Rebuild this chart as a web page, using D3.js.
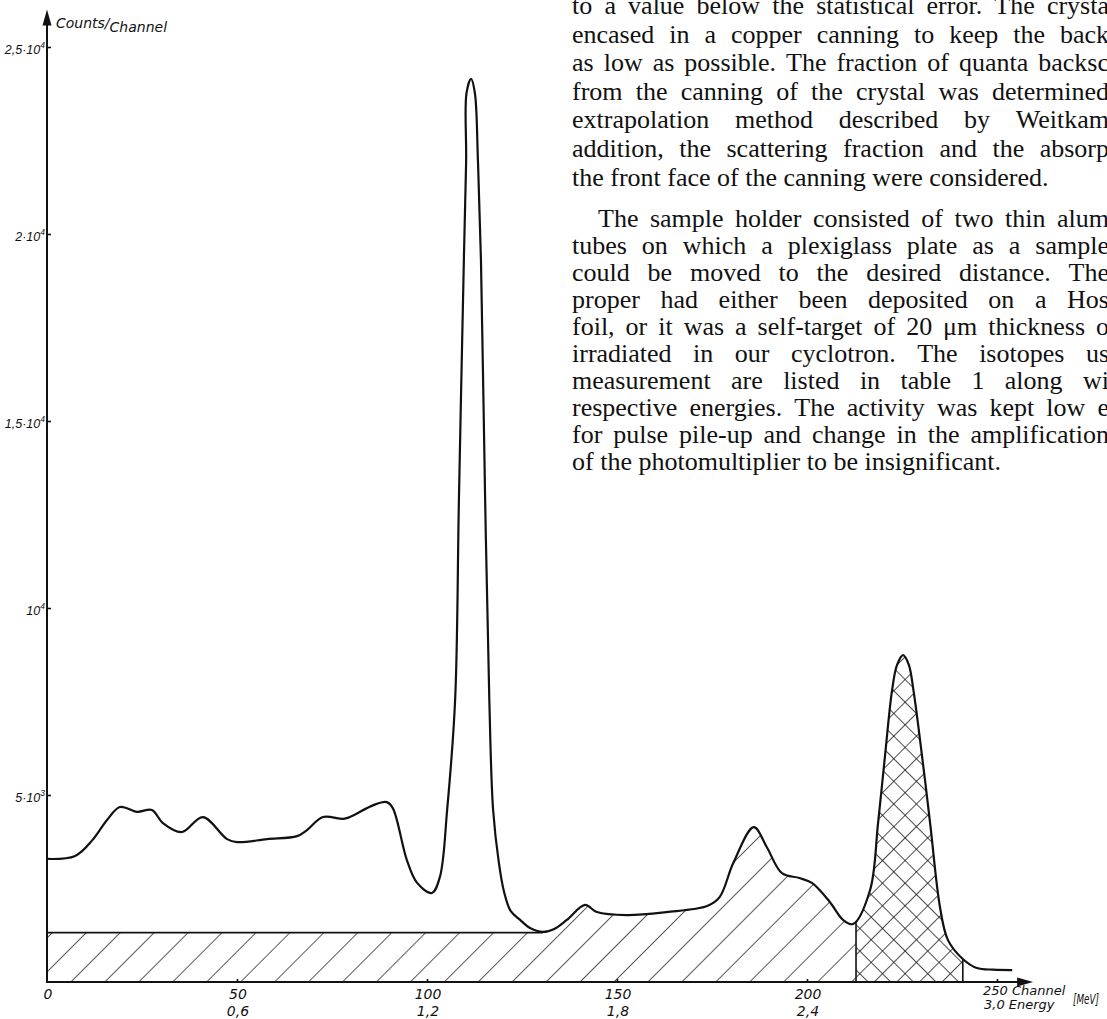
<!DOCTYPE html>
<html>
<head>
<meta charset="utf-8">
<script src="https://cdn.jsdelivr.net/npm/d3@7"></script>
<style>
  html, body { margin: 0; padding: 0; background: #fff; }
  svg { display: block; }
  .lbl { font-family: "DejaVu Sans", "Liberation Sans", sans-serif; font-style: italic; fill: #111; }
  .ylbl { font-family: "Liberation Sans", Arial, sans-serif; font-style: italic; fill: #111; }
  .body { font-family: "Liberation Serif", "Times New Roman", serif; font-size: 26px; fill: #111; }
</style>
</head>
<body>
<svg id="fig" width="1107" height="1019"></svg>
<script>
// Gamma spectrum: channel number and counts per channel
const channels = [0, 7.4, 12, 15.8, 19.2, 23.7, 27.6, 30.5, 35.5, 41, 47.4, 50, 57.9, 65.8, 68.4, 72.6,
  77.9, 79.7, 85.9, 89.4, 91, 94.7, 97.4, 101.3, 103.4, 105.3, 107.4, 108.4, 109.7, 110.3, 110.4,
  111.6, 112.6, 113.4, 114.2, 115.3, 116.4, 117.4, 118.9, 120.3, 122, 124.5, 127, 130.5, 133.5,
  136.8, 141.6, 144.7, 152.6, 163, 173.7, 177, 180.6, 186, 189.4, 193.4, 198, 201.3, 206, 209.5,
  212.1, 216.6, 218.7, 220.5, 222.4, 223.7, 225.3, 226.8, 228, 230.3, 232.4, 235, 237.1, 241,
  244.7, 249, 254];
const counts = [3290, 3370, 3800, 4330, 4680, 4550, 4600, 4250, 4010, 4410, 3820, 3740, 3820, 3900, 4060, 4410,
  4360, 4410, 4730, 4810, 4650, 3260, 2650, 2380, 2810, 4600, 7540, 12900, 19300, 21980, 23770,
  24150, 23770, 21980, 19300, 12900, 7540, 4600, 3200, 2400, 1900, 1660, 1450, 1340, 1420,
  1660, 2060, 1870, 1790, 1870, 2030, 2270, 3180, 4140, 3610, 2910, 2780, 2650, 2140, 1660,
  1550, 2460, 4250, 6020, 7810, 8480, 8740, 8480, 7810, 6020, 4250, 2000, 1120, 615,
  374, 330, 320];

// Background level and the channel limits of the shaded regions
const background = 1320;
const continuumStart = 130.5;
const photopeakLow = 212.9;
const photopeakHigh = 241;

// Axis ticks
const yTicks = [5000, 10000, 15000, 20000, 25000];
const yTickMantissa = ["5·10", "10", "1,5·10", "2·10", "2,5·10"];
const yTickExponent = ["3", "4", "4", "4", "4"];
const xTicks = [0, 50, 100, 150, 200];
const energyLabels = ["", "0,6", "1,2", "1,8", "2,4"];
const lastTick = 250, lastEnergy = "3,0";

// Accompanying text column
const paragraphOne = [
  ["to a value below the statistical error. The crysta", true],
  ["encased in a copper canning to keep the back", true],
  ["as low as possible. The fraction of quanta backsc", true],
  ["from the canning of the crystal was determined", true],
  ["extrapolation method described by Weitkam", true],
  ["addition, the scattering fraction and the absorp", true],
  ["the front face of the canning were considered.", false]
];
const paragraphTwo = [
  ["The sample holder consisted of two thin alum", true],
  ["tubes on which a plexiglass plate as a sample", true],
  ["could be moved to the desired distance. The", true],
  ["proper had either been deposited on a Hos", true],
  ["foil, or it was a self-target of 20 μm thickness o", true],
  ["irradiated in our cyclotron. The isotopes us", true],
  ["measurement are listed in table 1 along wi", true],
  ["respective energies. The activity was kept low e", true],
  ["for pulse pile-up and change in the amplification", true],
  ["of the photomultiplier to be insignificant.", false]
];

const data = channels.map((c, i) => ({ ch: c, n: counts[i] }));

const svg = d3.select("#fig");
const x = d3.scaleLinear().domain([0, 250]).range([47, 997]);
const y = d3.scaleLinear().domain([0, 25000]).range([982, 47]);
const ink = "#111";

// hatch patterns: single "/" diagonals and a cross-hatch
const defs = svg.append("defs");
defs.append("pattern").attr("id", "diag")
  .attr("patternUnits", "userSpaceOnUse").attr("width", 24).attr("height", 24)
  .attr("patternTransform", "rotate(45)")
  .append("line").attr("x1", 0).attr("y1", 0).attr("x2", 0).attr("y2", 24)
  .attr("stroke", ink).attr("stroke-width", 1.4);
const cross = defs.append("pattern").attr("id", "cross")
  .attr("patternUnits", "userSpaceOnUse").attr("width", 16).attr("height", 16)
  .attr("patternTransform", "rotate(45)");
cross.append("line").attr("x1", 0).attr("y1", 0).attr("x2", 0).attr("y2", 16)
  .attr("stroke", ink).attr("stroke-width", 1.5);
cross.append("line").attr("x1", 0).attr("y1", 0).attr("x2", 16).attr("y2", 0)
  .attr("stroke", ink).attr("stroke-width", 1.5);

const curve = d3.curveCatmullRom.alpha(0.5);
const line = d3.line().x(d => x(d.ch)).y(d => y(d.n)).curve(curve);
const area = d3.area().x(d => x(d.ch)).y0(y(0)).y1(d => y(d.n)).curve(curve);

defs.append("clipPath").attr("id", "under")
  .append("path").attr("d", area(data));

// background rectangle under the low-energy part
svg.append("rect")
  .attr("x", x(0)).attr("y", y(background))
  .attr("width", x(continuumStart) - x(0)).attr("height", y(0) - y(background))
  .attr("fill", "url(#diag)");
svg.append("line")
  .attr("x1", x(0)).attr("x2", x(continuumStart))
  .attr("y1", y(background)).attr("y2", y(background))
  .attr("stroke", ink).attr("stroke-width", 1.6);

// continuum and photopeak regions, clipped to the area under the spectrum
const shaded = svg.append("g").attr("clip-path", "url(#under)");
shaded.append("rect")
  .attr("x", x(continuumStart)).attr("y", y(25000))
  .attr("width", x(photopeakLow) - x(continuumStart)).attr("height", y(0) - y(25000))
  .attr("fill", "url(#diag)");
shaded.append("rect")
  .attr("x", x(photopeakLow)).attr("y", y(25000))
  .attr("width", x(photopeakHigh) - x(photopeakLow)).attr("height", y(0) - y(25000))
  .attr("fill", "url(#cross)");
[photopeakLow, photopeakHigh].forEach(c => {
  shaded.append("line")
    .attr("x1", x(c)).attr("x2", x(c)).attr("y1", y(0)).attr("y2", y(25000))
    .attr("stroke", ink).attr("stroke-width", 1.6);
});

// spectrum
svg.append("path").attr("d", line(data))
  .attr("fill", "none").attr("stroke", ink).attr("stroke-width", 2.2)
  .attr("stroke-linejoin", "round");

// axes
const yAxis = d3.axisLeft(y).tickValues(yTicks).tickSizeInner(-4).tickSizeOuter(0)
  .tickPadding(2).tickFormat(() => "");
const gy = svg.append("g").attr("transform", `translate(${x(0)},0)`).call(yAxis);
gy.select(".domain").remove();
gy.selectAll(".tick line").attr("stroke", ink).attr("stroke-width", 1.6);
gy.selectAll(".tick text")
  .attr("class", "ylbl").attr("font-size", 12.5).attr("dy", "0.5em")
  .each(function (d, i) {
    const t = d3.select(this);
    t.append("tspan").text(yTickMantissa[i]);
    t.append("tspan").attr("dy", -6).attr("font-size", 8.5).text(yTickExponent[i]);
  });

const xAxis = d3.axisBottom(x).tickValues(xTicks.slice(1).concat([lastTick]))
  .tickSizeInner(-3).tickSizeOuter(0).tickFormat(() => "");
const gx = svg.append("g").attr("transform", `translate(0,${y(0)})`).call(xAxis);
gx.select(".domain").remove();
gx.selectAll(".tick line").attr("stroke", ink).attr("stroke-width", 1.6);

const yTop = y(26000), xEnd = x(259.5);
svg.append("line").attr("x1", x(0)).attr("x2", x(0)).attr("y1", y(0) + 1).attr("y2", yTop + 10)
  .attr("stroke", ink).attr("stroke-width", 2);
svg.append("path")
  .attr("d", `M${x(0)},${yTop} L${x(0) - 4.5},${yTop + 16} L${x(0) + 4.5},${yTop + 16} Z`)
  .attr("fill", ink);
svg.append("line").attr("x1", x(0) - 1).attr("x2", xEnd - 10).attr("y1", y(0)).attr("y2", y(0))
  .attr("stroke", ink).attr("stroke-width", 2);
svg.append("path")
  .attr("d", `M${xEnd},${y(0)} L${xEnd - 16},${y(0) - 4.5} L${xEnd - 16},${y(0) + 4.5} Z`)
  .attr("fill", ink);

// axis titles and tick labels
const yt = svg.append("text").attr("class", "lbl").attr("font-size", 14)
  .attr("x", x(0) + 9).attr("y", 28);
yt.append("tspan").text("Counts/");
yt.append("tspan").attr("dy", 3.5).text("Channel");

xTicks.forEach((v, i) => {
  svg.append("text").attr("class", "lbl").attr("font-size", 14)
    .attr("text-anchor", "middle").attr("x", x(v) + 1).attr("y", y(0) + 17).text(v);
  if (energyLabels[i]) {
    svg.append("text").attr("class", "lbl").attr("font-size", 14)
      .attr("text-anchor", "middle").attr("x", x(v) + 1).attr("y", y(0) + 34).text(energyLabels[i]);
  }
});
svg.append("text").attr("class", "lbl").attr("font-size", 13)
  .attr("x", x(lastTick) - 14).attr("y", y(0) + 13).text(lastTick + " Channel");
svg.append("text").attr("class", "lbl").attr("font-size", 13)
  .attr("x", x(lastTick) - 13).attr("y", y(0) + 27).text(lastEnergy + "  Energy");
svg.append("text").attr("class", "lbl").attr("font-size", 14)
  .attr("x", x(lastTick) + 76).attr("y", y(0) + 22)
  .attr("textLength", 26).attr("lengthAdjust", "spacingAndGlyphs").text("[MeV]");

// text column: each line is one text element, words spaced to justify
function setLine(str, x0, yb, justify) {
  const words = str.split(" ");
  const t = svg.append("text").attr("class", "body").attr("y", yb);
  const spans = words.map(w => t.append("tspan").text(w));
  const widths = spans.map(s => s.node().getComputedTextLength());
  let gap = 6.5;
  if (justify && words.length > 1) {
    gap = Math.max(5, (1109 - x0 - d3.sum(widths)) / (words.length - 1));
  }
  let cx = x0;
  spans.forEach((s, i) => { s.attr("x", cx); cx += widths[i] + gap; });
}
paragraphOne.forEach(([s, j], i) => setLine(s, 572, 14 + 28.6 * i, j));
paragraphTwo.forEach(([s, j], i) => setLine(s, i === 0 ? 598 : 572, 227 + 27 * i, j));
</script>
</body>
</html>
